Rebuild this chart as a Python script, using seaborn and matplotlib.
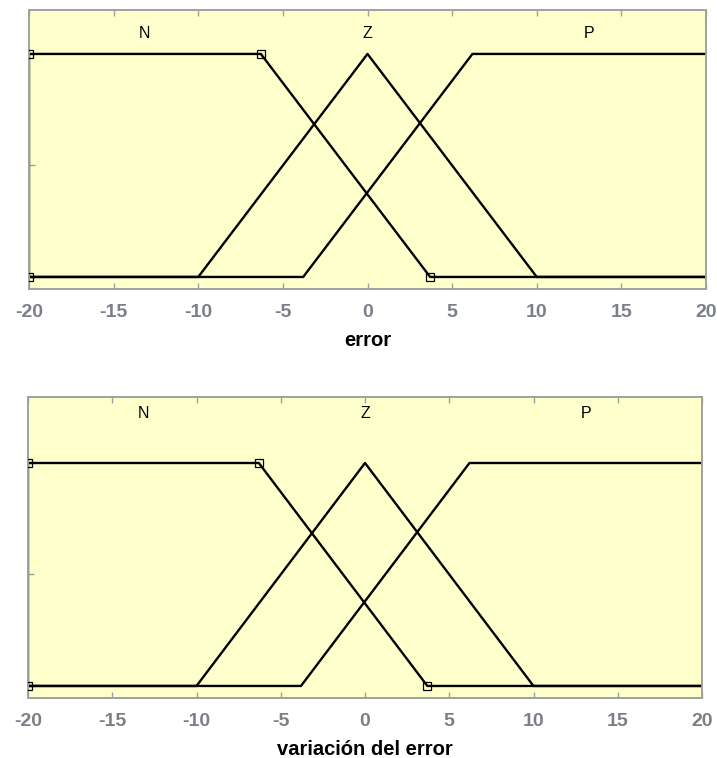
import numpy as np
import pandas as pd
import matplotlib
matplotlib.use("Agg")
import matplotlib.pyplot as plt
import seaborn as sns

# Membership functions for the two fuzzy inputs (same partition on both)
mf_names = ["N", "Z", "P"]
n_x = [-20.0, -20.0, -6.3, 3.7]
n_mu = [0.0, 1.0, 1.0, 0.0]
z_x = [-20.0, -10.0, 0.0, 10.0, 20.0]
z_mu = [0.0, 0.0, 1.0, 0.0, 0.0]
p_x = [-20.0, -3.8, 6.2, 20.0]
p_mu = [0.0, 0.0, 1.0, 1.0]
# N is extended to the right edge with zero membership
n_tail_x = [3.7, 20.0]
n_tail_mu = [0.0, 0.0]

label_x = [-13.15, 0.0, 13.1]
x_ticks = [-20, -15, -10, -5, 0, 5, 10, 15, 20]
y_ticks = [0, 0.5, 1]
input_names = ["error", "variación del error"]

sns.set_theme(style="white")
plt.rcParams["font.family"] = ["Liberation Sans", "DejaVu Sans"]

rows = []
for xs, ms, name in [(n_x + n_tail_x[1:], n_mu + n_tail_mu[1:], "N"),
                     (z_x, z_mu, "Z"), (p_x, p_mu, "P")]:
    for i, (a, b) in enumerate(zip(xs, ms)):
        rows.append({"x": a, "mu": b, "mf": name, "order": i})
df = pd.DataFrame(rows)

fig = plt.figure(figsize=(7.17, 7.58), dpi=100)
axes_rects = [
    [29 / 717, (758 - 289) / 758, 677 / 717, 279 / 758],
    [28 / 717, (758 - 698) / 758, 674 / 717, 301 / 758],
]
ylims = [(-0.054, 1.197), (-0.054, 1.296)]
label_ys = [1.09, 1.22]

bg = "#FFFFCC"
spine_c = "#A0A0A0"
tick_c = "#7B8088"

for k, rect in enumerate(axes_rects):
    ax = fig.add_axes(rect)
    ax.set_facecolor(bg)
    sns.lineplot(data=df, x="x", y="mu", units="mf", estimator=None,
                 sort=False, color="black", linewidth=1.7, ax=ax)
    # vertex markers of the selected function
    ax.plot(n_x, n_mu, linestyle="none", marker="s", markersize=6,
            markerfacecolor="none", markeredgecolor="black",
            markeredgewidth=0.9, clip_on=True, zorder=5)
    for name, lx in zip(mf_names, label_x):
        ax.text(lx, label_ys[k], name, ha="center", va="center",
                fontsize=11.5, color="black")
    ax.set_xlim(-20, 20)
    ax.set_ylim(*ylims[k])
    ax.set_xticks(x_ticks)
    ax.set_xticklabels([str(t) for t in x_ticks])
    ax.set_yticks(y_ticks)
    ax.set_yticklabels([])
    ax.tick_params(axis="x", direction="in", top=True, bottom=True,
                   length=4, width=1, color=spine_c, labelcolor=tick_c,
                   labelsize=14, pad=11)
    ax.tick_params(axis="y", direction="in", left=True, right=False,
                   length=4, width=1, color=spine_c)
    for lab in ax.get_xticklabels():
        lab.set_fontweight("bold")
    for s in ax.spines.values():
        s.set_color(spine_c)
        s.set_linewidth(1.4)
    ax.set_xlabel(input_names[k], fontsize=14.5, fontweight="bold",
                  color="black", labelpad=7)
    ax.set_ylabel("")

fig.savefig("out.png", dpi=100)
